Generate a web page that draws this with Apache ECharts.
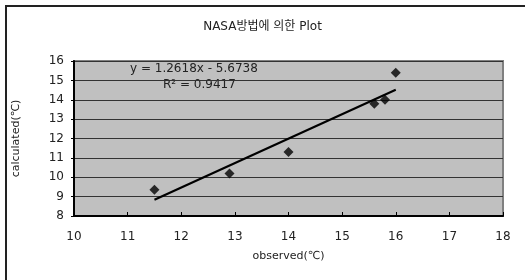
<!DOCTYPE html>
<html>
<head>
<meta charset="utf-8">
<script src="https://cdn.jsdelivr.net/npm/echarts@6/dist/echarts.min.js"></script>
<style>
  html, body { margin: 0; padding: 0; background: #fff; }
  #chart { width: 525px; height: 280px; }
</style>
</head>
<body>
<div id="chart"></div>
<script>
// observed vs calculated values
const observed = [11.5, 12.9, 14.0, 15.6, 15.8, 16.0];
const calculated = [9.35, 10.2, 11.3, 13.8, 14.0, 15.4];
// trend line from the fitted equation
const slope = 1.2618;
const intercept = -5.6738;
const rSquared = 0.9417;

const font = '"DejaVu Sans", "Noto Sans CJK KR", sans-serif';

const points = observed.map((x, i) => [x, calculated[i]]);
const xMin = Math.min(...observed);
const xMax = Math.max(...observed);
const trend = [[xMin, slope * xMin + intercept], [xMax, slope * xMax + intercept]];

const chart = echarts.init(document.getElementById('chart'));
var option = {
    animation: false,
    textStyle: { fontFamily: font },
    title: {
        text: 'NASA방법에 의한 Plot',
        left: 'center',
        top: 16,
        textStyle: { fontSize: 12, fontWeight: 'normal', color: '#222', fontFamily: font }
    },
    graphic: [
        {
            // outer chart frame (only left and top edges fall inside the picture)
            type: 'polyline',
            shape: { points: [[6, 290], [6, 6], [540, 6]] },
            style: { fill: 'none', stroke: '#222', lineWidth: 2 },
            silent: true
        },
        {
            type: 'text',
            left: 130, top: 63,
            style: { text: 'y = ' + slope + 'x - ' + Math.abs(intercept), font: '12px ' + font, fill: '#222' }
        },
        {
            type: 'text',
            left: 163, top: 79,
            style: { text: 'R² = ' + rSquared, font: '12px ' + font, fill: '#222' }
        }
    ],
    grid: {
        left: 74,
        right: 22,
        top: 61,
        bottom: 64,
        show: true,
        backgroundColor: '#c0c0c0',
        borderColor: '#808080',
        borderWidth: 2
    },
    xAxis: {
        type: 'value',
        min: 10,
        max: 18,
        interval: 1,
        name: 'observed(℃)',
        nameLocation: 'middle',
        nameGap: 35,
        nameTextStyle: { fontSize: 11, color: '#222' },
        axisLine: { lineStyle: { color: '#000', width: 2 } },
        axisTick: { inside: true, length: 4, lineStyle: { color: '#000' } },
        axisLabel: { fontSize: 12, color: '#222', margin: 15 },
        splitLine: { show: false }
    },
    yAxis: {
        type: 'value',
        min: 8,
        max: 16,
        interval: 1,
        name: 'calculated(℃)',
        nameLocation: 'middle',
        nameGap: 52,
        nameTextStyle: { fontSize: 11, color: '#222' },
        axisLine: { show: true, lineStyle: { color: '#000', width: 2 } },
        axisTick: { show: true, length: 3, lineStyle: { color: '#000' } },
        axisLabel: { fontSize: 12, color: '#222', margin: 10 },
        splitLine: { show: true, lineStyle: { color: '#333', width: 1 } }
    },
    series: [
        {
            type: 'line',
            data: trend,
            showSymbol: false,
            lineStyle: { color: '#000', width: 2.2 },
            z: 3
        },
        {
            type: 'scatter',
            data: points,
            symbol: 'diamond',
            symbolSize: 10,
            itemStyle: { color: '#000' },
            z: 4
        }
    ]
};
chart.setOption(option);
</script>
</body>
</html>
